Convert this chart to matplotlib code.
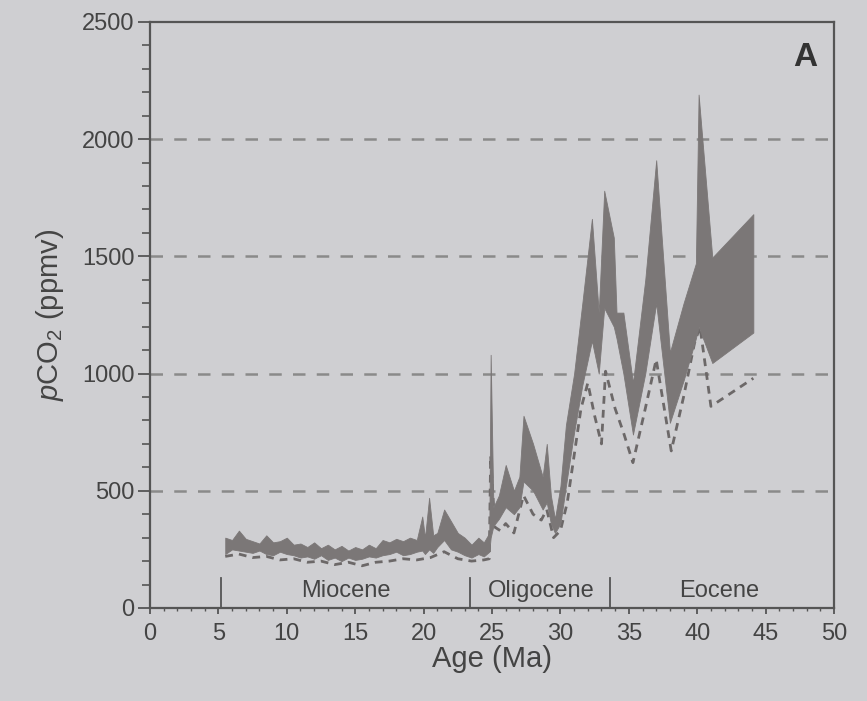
import matplotlib
matplotlib.use("Agg")
import matplotlib.pyplot as plt
from matplotlib.ticker import MultipleLocator

plt.rcParams['font.family'] = ['Liberation Sans', 'DejaVu Sans']
plt.rcParams['mathtext.fontset'] = 'custom'
plt.rcParams['mathtext.rm'] = 'Liberation Sans'
plt.rcParams['mathtext.it'] = 'Liberation Sans:italic'

# ---- data ----
age = [5.5, 6.0, 6.5, 7.0, 7.5, 8.0, 8.5, 9.0, 9.5, 10.0, 10.5, 11.0, 11.5, 12.0,
       12.5, 13.0, 13.5, 14.0, 14.5, 15.0, 15.5, 16.0, 16.5, 17.0, 17.5, 18.0,
       18.5, 19.0, 19.5, 19.9, 20.1, 20.4, 20.7, 21.0, 21.5, 22.0, 22.5, 23.0,
       23.5, 24.0, 24.4, 24.8,
       24.9, 25.1, 25.5, 26.0, 26.6, 27.0, 27.3, 28.0, 28.7, 29.0, 29.3, 29.6,
       30.0, 30.4, 31.0, 31.6, 32.3, 32.8, 33.2, 33.9, 34.1, 34.6, 35.3, 36.2,
       37.0, 38.0, 39.0, 39.9, 40.1, 41.1, 44.1]
upper = [300, 290, 330, 295, 285, 275, 310, 280, 285, 300, 270, 275, 260, 280,
         255, 270, 250, 265, 245, 260, 250, 270, 255, 290, 280, 295,
         285, 300, 290, 390, 300, 470, 310, 320, 420, 370, 320, 300,
         270, 300, 280, 320,
         1080, 430, 480, 610, 500, 560, 820, 700, 560, 700, 480, 380,
         520, 780, 1000, 1300, 1660, 1260, 1780, 1580, 1260, 1260, 960, 1400,
         1910, 1090, 1300, 1470, 2190, 1495, 1680]
lower = [230, 250, 245, 240, 235, 245, 230, 225, 240, 230, 225, 215, 220, 210,
         225, 205, 215, 200, 215, 205, 210, 220, 215, 225, 230, 240,
         225, 230, 240, 245, 230, 250, 235, 260, 290, 250, 240, 225,
         215, 230, 220, 240,
         300, 350, 380, 430, 400, 430, 540, 500, 420, 450, 360, 320,
         360, 520, 750, 950, 1140, 1000, 1280, 1200, 1150, 1000, 740, 1000,
         1300, 790, 970, 1150, 1200, 1045, 1175]

alt_age = [5.5, 6.5, 7.5, 8.5, 9.5, 10.5, 11.5, 12.5, 13.5, 14.5, 15.5, 16.5,
           17.5, 18.5, 19.5, 20.5, 21.5, 22.5, 23.5, 24.4, 24.8,
           24.9, 25.2, 25.6, 26.0, 26.6, 27.3, 28.0, 28.6, 29.0, 29.5, 30.0,
           30.5, 31.0, 31.5, 32.0, 32.5, 33.0, 33.3, 34.0, 34.6, 35.3, 36.2,
           37.0, 38.1, 39.0, 39.8, 40.2, 41.0, 44.1]
alt_lower = [220, 230, 215, 220, 205, 210, 195, 200, 185, 195, 180, 195,
             200, 210, 205, 215, 240, 210, 200, 205, 210,
             650, 345, 330, 360, 320, 480, 400, 375, 420, 300, 330,
             450, 650, 850, 960, 820, 700, 1010, 850, 750, 620, 850,
             1060, 670, 900, 1130, 1200, 860, 980]

epochs = ["Miocene", "Oligocene", "Eocene"]
epoch_centers = [14.3, 28.6, 41.6]
epoch_bounds = [5.2, 23.4, 33.6]
grid_levels = [500, 1000, 1500, 2000]

bg = '#cfcfd2'
band = '#7b7777'
ink = '#444444'

fig = plt.figure(figsize=(8.67, 7.01), dpi=100, facecolor=bg)
ax = fig.add_axes([0.173, 0.1327, 0.789, 0.836], facecolor=bg)

for g in grid_levels:
    ax.axhline(g, color='#8a8a8a', lw=1.8, linestyle=(0, (5, 4.5)), zorder=1)

ax.fill_between(age, lower, upper, color=band, lw=0.6, edgecolor=band, zorder=3)
ax.plot(alt_age, alt_lower, color='#6c6868', lw=2.0, linestyle=(0, (2.8, 2.2)), zorder=2)

for b in epoch_bounds:
    ax.plot([b, b], [0, 130], color='#555555', lw=1.3, zorder=4)
for name, c in zip(epochs, epoch_centers):
    ax.text(c, 72, name, ha='center', va='center', fontsize=17, color=ink, zorder=5)

ax.text(0.975, 0.94, 'A', transform=ax.transAxes, ha='right', va='center',
        fontsize=24, fontweight='bold', color='#333333')

ax.set_xlim(0, 50)
ax.set_ylim(0, 2500)
ax.xaxis.set_major_locator(MultipleLocator(5))
ax.xaxis.set_minor_locator(MultipleLocator(1))
ax.yaxis.set_major_locator(MultipleLocator(500))
ax.yaxis.set_minor_locator(MultipleLocator(100))

for s in ax.spines.values():
    s.set_color('#555555')
    s.set_linewidth(1.6)

ax.tick_params(axis='y', which='major', direction='out', length=9, width=1.3,
               colors='#555555', labelcolor=ink, labelsize=17, pad=2)
ax.tick_params(axis='y', which='minor', direction='out', length=6, width=1.2, colors='#555555')
ax.tick_params(axis='x', which='major', direction='out', length=4, width=1.3,
               colors='#555555', labelcolor=ink, labelsize=17, pad=7)
ax.tick_params(axis='x', which='minor', direction='out', length=2, width=1.0, colors='#555555')

ax.set_xlabel('Age (Ma)', fontsize=21, color=ink, labelpad=0)
ax.set_ylabel(r'$p$CO$_2$ (ppmv)', fontsize=21, color=ink, labelpad=12)

fig.savefig('out.png', dpi=100, facecolor=bg)
